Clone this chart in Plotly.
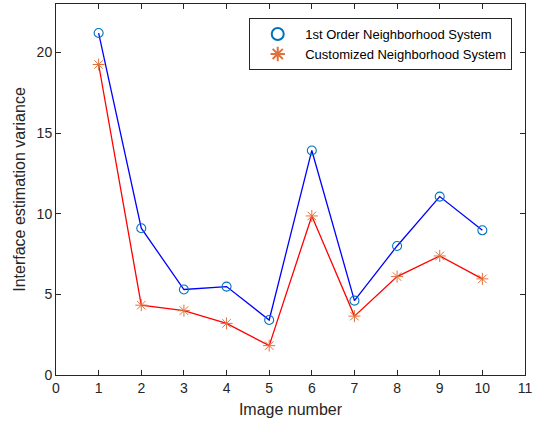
import plotly.graph_objects as go

images = [1, 2, 3, 4, 5, 6, 7, 8, 9, 10]
first_order = [21.2, 9.1, 5.3, 5.48, 3.41, 13.92, 4.61, 8.0, 11.06, 8.97]
customized = [19.25, 4.33, 3.99, 3.2, 1.82, 9.86, 3.65, 6.1, 7.38, 5.96]

x_ticks = list(range(0, 12))
y_ticks = [0, 5, 10, 15, 20]

fig = go.Figure()

# connecting lines (pure blue / red), kept out of the legend
fig.add_trace(go.Scatter(x=images, y=first_order, mode="lines",
                         line=dict(color="#0000FF", width=1.3),
                         showlegend=False, hoverinfo="skip"))
fig.add_trace(go.Scatter(x=images, y=customized, mode="lines",
                         line=dict(color="#FF0000", width=1.3),
                         showlegend=False, hoverinfo="skip"))

# markers
fig.add_trace(go.Scatter(x=images, y=first_order, mode="markers",
                         name="1st Order Neighborhood System",
                         marker=dict(symbol="circle-open", size=9,
                                     color="#0072BD", line=dict(width=1.1))))
fig.add_trace(go.Scatter(x=images, y=customized, mode="markers",
                         name="Customized Neighborhood System",
                         marker=dict(symbol="asterisk-open", size=10,
                                     color="#E0703C", line=dict(width=1.0, color="#D95319"))))

axis_common = dict(showline=True, linecolor="#262626", linewidth=1,
                   mirror="ticks", ticks="inside", ticklen=5,
                   tickcolor="#262626", showgrid=False, zeroline=False,
                   tickfont=dict(size=14, color="#262626"))

fig.update_layout(
    width=543, height=425,
    margin=dict(l=56, r=18, t=4, b=50),
    paper_bgcolor="white", plot_bgcolor="white",
    font=dict(family="Liberation Sans, Arial, sans-serif", color="#262626"),
    xaxis=dict(range=[0, 11], tickvals=x_ticks,
               title=dict(text="Image number", font=dict(size=16), standoff=9),
               **axis_common),
    yaxis=dict(range=[0, 23], tickvals=y_ticks,
               title=dict(text="Interface estimation variance", font=dict(size=16), standoff=7),
               **axis_common),
    legend=dict(x=0.412, y=0.962, xanchor="left", yanchor="top",
                bgcolor="white", bordercolor="#262626", borderwidth=1,
                font=dict(size=13, color="#000000"),
                itemwidth=45, itemsizing="constant", tracegroupgap=0),
)

fig.write_html("out.html")
